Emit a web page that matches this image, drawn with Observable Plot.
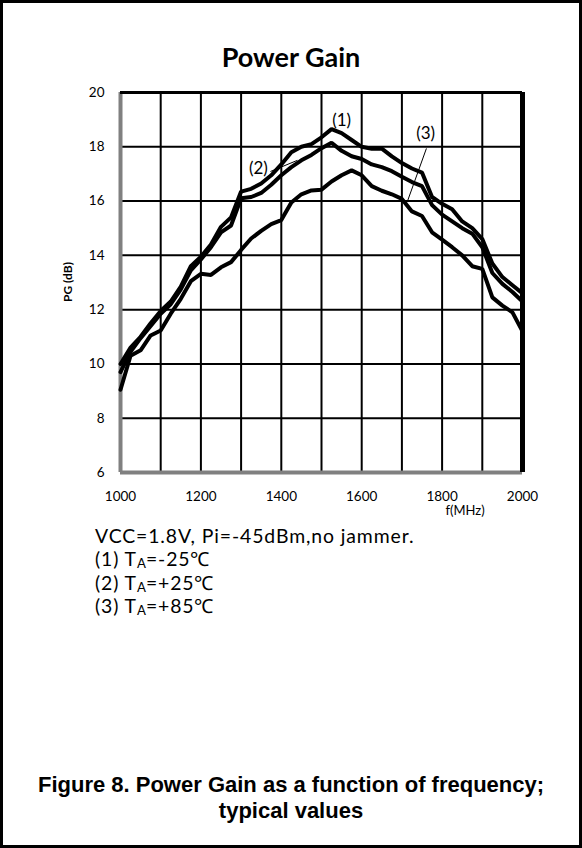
<!DOCTYPE html>
<html><head><meta charset="utf-8">
<script src="https://cdn.jsdelivr.net/npm/d3@7"></script>
<script src="https://cdn.jsdelivr.net/npm/@observablehq/plot@0.6"></script>
<style>
body{margin:0;background:#fff;}
#page{position:relative;width:582px;height:848px;overflow:hidden;background:#fff;font-family:Lato,"Open Sans",sans-serif;color:#000;}
#frame{position:absolute;left:0;top:0;width:582px;height:848px;border:3px solid #000;box-sizing:border-box;pointer-events:none;}
#title{position:absolute;left:0;width:582px;top:41px;text-align:center;font-weight:bold;font-size:27px;line-height:32px;}
#chart{position:absolute;left:0;top:80px;}
#ylab{position:absolute;left:67px;top:282px;transform:translate(-50%,-50%) rotate(-90deg);font-weight:bold;font-size:12px;white-space:nowrap;}
#xlab{position:absolute;left:465px;top:510px;transform:translate(-50%,-50%);font-size:13px;white-space:nowrap;}
#notes{position:absolute;left:95px;top:524px;font-size:19.4px;line-height:23.4px;letter-spacing:0.9px;white-space:nowrap;}
#notes sub{font-size:0.68em;vertical-align:-0.15em;line-height:0;letter-spacing:0;}
#caption{position:absolute;left:0;width:582px;top:772px;text-align:center;font-family:"Liberation Sans",Arial,sans-serif;font-weight:bold;font-size:22px;line-height:25.5px;}
</style>
</head><body>
<div id="page">
  <div id="title">Power Gain</div>
  <div id="chart"></div>
  <div id="ylab">PG (dB)</div>
  <div id="xlab">f(MHz)</div>
  <div id="notes">
    <div>VCC=1.8V, Pi=-45dBm,no jammer.</div>
    <div>(1) T<sub>A</sub>=-25℃</div>
    <div>(2) T<sub>A</sub>=+25℃</div>
    <div>(3) T<sub>A</sub>=+85℃</div>
  </div>
  <div id="caption">Figure 8. Power Gain as a function of frequency;<br>typical values</div>
  <div id="frame"></div>
</div>
<script>
// frequency samples (MHz)
const freq = [1000,1025,1050,1075,1100,1125,1150,1175,1200,1225,1250,1275,1300,1325,1350,1375,1400,1425,1450,1475,1500,1525,1550,1575,1600,1625,1650,1675,1700,1725,1750,1775,1800,1825,1850,1875,1900,1925,1950,1975,2000];
// (1) TA = -25 C
const pgM25 = [10.0,10.6,11.0,11.5,11.95,12.3,12.85,13.6,13.95,14.4,15.05,15.4,16.35,16.45,16.65,16.95,17.35,17.8,18.0,18.1,18.35,18.65,18.5,18.25,18.0,17.93,17.93,17.65,17.4,17.2,17.05,16.15,15.9,15.7,15.25,15.0,14.6,13.7,13.2,12.9,12.6];
// (2) TA = +25 C
const pgP25 = [9.7,10.45,10.95,11.4,11.85,12.2,12.75,13.45,13.85,14.3,14.85,15.1,16.1,16.15,16.3,16.6,16.95,17.25,17.5,17.7,17.95,18.15,17.85,17.65,17.55,17.35,17.25,17.1,16.9,16.7,16.55,15.85,15.5,15.25,15.0,14.8,14.3,13.35,12.95,12.65,12.3];
// (3) TA = +85 C
const pgP85 = [9.05,10.3,10.5,11.05,11.23,11.85,12.4,13.05,13.32,13.28,13.56,13.75,14.2,14.62,14.9,15.15,15.3,15.95,16.25,16.39,16.42,16.72,16.95,17.13,16.95,16.55,16.38,16.25,16.08,15.62,15.45,14.85,14.58,14.3,14.0,13.6,13.5,12.45,12.15,11.9,11.2];

const curveNames = ["(1)","(2)","(3)"];
const xTicks = [1000,1200,1400,1600,1800,2000];
const yTicks = [6,8,10,12,14,16,18,20];
const xGrid = [1100,1200,1300,1400,1500,1600,1700,1800,1900];
const yGrid = [8,10,12,14,16,18];

// curve labels and leader lines
const labelText = ["(1)","(2)","(3)"];
const labelF = [1550,1343,1759];
const labelPG = [18.97,17.2,18.49];
const leaderF1 = [1373,1761];
const leaderPG1 = [17.09,17.94];
const leaderF2 = [1440,1713];
const leaderPG2 = [17.5,15.96];

const series = [pgM25, pgP25, pgP85];
const rows = [];
series.forEach((s, k) => s.forEach((v, i) => rows.push({f: freq[i], pg: v, curve: curveNames[k]})));
const labels = labelText.map((t, i) => ({t, f: labelF[i], pg: labelPG[i]}));
const leaders = leaderF1.map((f, i) => ({f1: f, pg1: leaderPG1[i], f2: leaderF2[i], pg2: leaderPG2[i]}));

const chart = Plot.plot({
  width: 582,
  height: 432,
  marginLeft: 120,
  marginRight: 60,
  marginTop: 12,
  marginBottom: 40,
  style: {background: "transparent", fontFamily: "Lato, sans-serif", fontSize: "13.5px", color: "#000"},
  x: {domain: [1000, 2000], ticks: xTicks, tickFormat: d => String(d), tickSize: 0, tickPadding: 19, label: null},
  y: {domain: [6, 20], ticks: yTicks, tickFormat: d => String(d), tickSize: 0, tickPadding: 16, label: null},
  marks: [
    Plot.ruleX(xGrid, {stroke: "#000", strokeWidth: 2}),
    Plot.ruleY(yGrid, {stroke: "#000", strokeWidth: 2}),
    Plot.ruleX([1000], {stroke: "#808080", strokeWidth: 4}),
    Plot.ruleY([6], {stroke: "#808080", strokeWidth: 4}),
    Plot.ruleY([20], {stroke: "#000", strokeWidth: 3}),
    Plot.ruleX([2000], {stroke: "#000", strokeWidth: 5}),
    Plot.line(rows, {x: "f", y: "pg", z: "curve", stroke: "#000", strokeWidth: 4, strokeLinejoin: "miter"}),
    Plot.link(leaders, {x1: "f1", y1: "pg1", x2: "f2", y2: "pg2", stroke: "#000", strokeWidth: 1}),
    Plot.text(labels, {x: "f", y: "pg", text: "t", fontSize: 17, fill: "#000"})
  ]
});
document.getElementById("chart").appendChild(chart);
</script>
</body></html>
